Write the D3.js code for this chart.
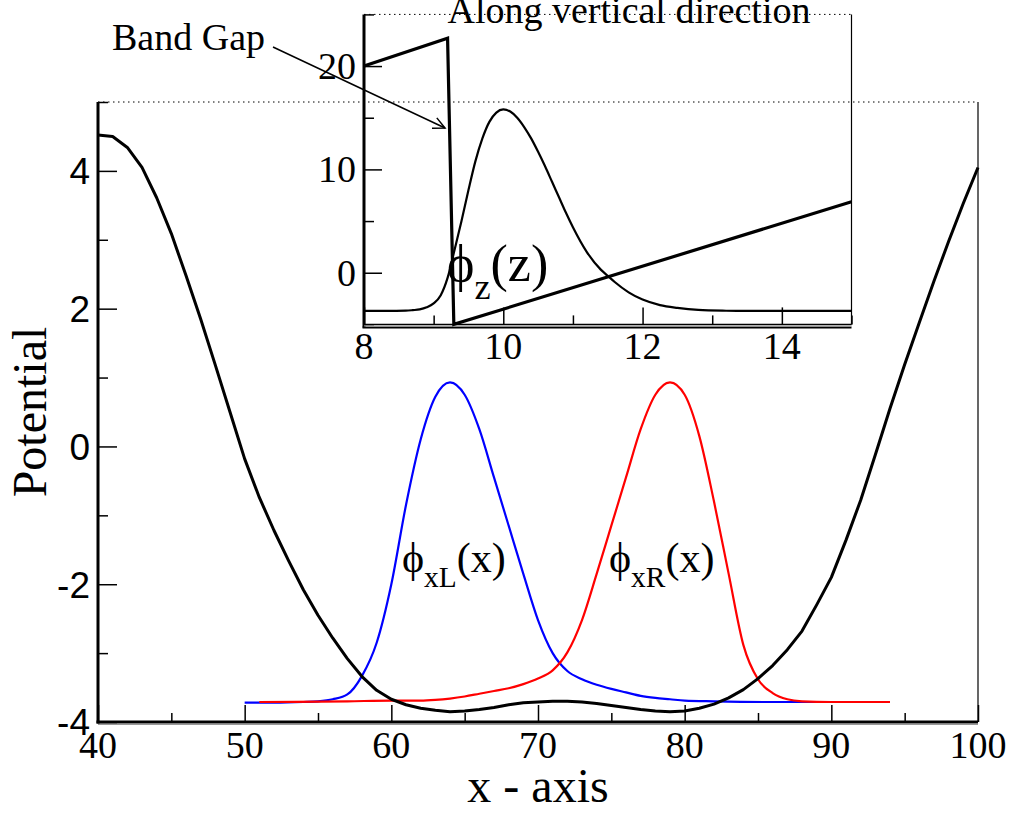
<!DOCTYPE html>
<html>
<head>
<meta charset="utf-8">
<script src="https://cdn.jsdelivr.net/npm/d3@7"></script>
<style>
html,body{margin:0;padding:0;background:#fff;}
svg{display:block;}
</style>
</head>
<body>
<svg id="chart" width="1013" height="813"></svg>
<script>
// ---------- data ----------
const potX = [40,41,42,43,44,45,46,47,48,49,50,51,52,53,54,55,56,57,58,59,60,61,62,63,64,65,66,67,68,69,70,71,72,73,74,75,76,77,78,79,80,81,82,83,84,85,86,87,88,89,90,91,92,93,94,95,96,97,98,99,100];
const potY = [4.52,4.50,4.34,4.05,3.61,3.09,2.48,1.85,1.18,0.50,-0.18,-0.74,-1.22,-1.66,-2.08,-2.45,-2.78,-3.08,-3.34,-3.54,-3.67,-3.75,-3.80,-3.83,-3.85,-3.84,-3.82,-3.79,-3.75,-3.72,-3.71,-3.70,-3.70,-3.71,-3.73,-3.76,-3.79,-3.82,-3.84,-3.85,-3.84,-3.80,-3.74,-3.65,-3.53,-3.37,-3.18,-2.95,-2.68,-2.30,-1.90,-1.36,-0.78,-0.12,0.55,1.19,1.80,2.40,2.98,3.53,4.05];

const phiLX = [50,52,54,55,56,57,58,59,60,61,62,63,64,65,66,67,68,69,70,71,72,73,74,75,76,77,78,79,80,82,86,92];
const phiLY = [-3.72,-3.72,-3.71,-3.70,-3.67,-3.60,-3.33,-2.85,-2.00,-0.85,0.10,0.72,0.93,0.75,0.25,-0.45,-1.15,-1.85,-2.52,-3.00,-3.26,-3.38,-3.46,-3.52,-3.57,-3.62,-3.65,-3.67,-3.69,-3.70,-3.71,-3.71];

const phiRX = [51,57,60,62,63,64,65,66,67,68,69,70,71,72,73,74,75,76,77,78,79,80,81,82,83,84,85,86,87,88,90,94];
const phiRY = [-3.71,-3.70,-3.69,-3.69,-3.68,-3.66,-3.63,-3.59,-3.55,-3.51,-3.45,-3.37,-3.25,-2.99,-2.52,-1.85,-1.15,-0.45,0.25,0.75,0.93,0.75,0.15,-0.80,-1.85,-2.88,-3.38,-3.58,-3.67,-3.70,-3.71,-3.71];

const insetPotX = [8.0,9.2,9.29,15.0];
const insetPotY = [20.0,22.7,-5.0,6.87];

const phiZX = [8.0,8.4,8.6,8.7,8.8,8.9,9.0,9.1,9.2,9.3,9.4,9.5,9.6,9.7,9.8,9.9,10.0,10.1,10.2,10.3,10.4,10.5,10.6,10.7,10.8,10.9,11.0,11.2,11.4,11.5,11.6,11.8,12.0,12.25,12.5,12.8,13.2,13.5,15.0];
const phiZY = [-3.7,-3.69,-3.67,-3.62,-3.55,-3.35,-2.97,-2.2,-0.5,2.2,5.0,8.0,10.8,13.0,14.6,15.5,15.8,15.6,15.0,14.1,13.0,11.7,10.3,8.8,7.3,5.8,4.4,2.0,0.3,-0.3,-0.9,-1.9,-2.6,-3.13,-3.4,-3.6,-3.68,-3.7,-3.7];

const mainXTicks = [40,50,60,70,80,90,100];
const mainXMinor = [45,55,65,75,85,95];
const mainYTicks = [-4,-2,0,2,4];
const mainYMinor = [-3,-1,1,3,5];
const insetXTicks = [8,10,12,14];
const insetXMinor = [9,11,13,15];
const insetYTicks = [0,10,20];
const insetYMinor = [-5,5,15,25];

// ---------- layout ----------
const svg = d3.select("#chart");
const serif = "'Liberation Serif','Times New Roman',serif";
const sans = "'Liberation Sans',Arial,sans-serif";
const PHI = "\u03D5";

const x = d3.scaleLinear().domain([40,100]).range([98,978]);
const y = d3.scaleLinear().domain([-4,5]).range([722,102]);

const ix = d3.scaleLinear().domain([8,15]).range([364,851.5]);
const iy = d3.scaleLinear().domain([-5,25]).range([324.4,14.4]);

// main frame: top dotted, right thin
svg.append("line").attr("x1",x(40)).attr("x2",x(100)).attr("y1",y(5)).attr("y2",y(5))
  .attr("stroke","#000").attr("stroke-width",1).attr("stroke-dasharray","1.5,3.5");
svg.append("line").attr("x1",x(100)).attr("x2",x(100)).attr("y1",y(5)).attr("y2",y(-4))
  .attr("stroke","#000").attr("stroke-width",1.2);

// main axes via d3 axes (ticks inside)
const gx = svg.append("g").attr("transform",`translate(0,${y(-4)})`)
  .call(d3.axisTop(x).tickValues(mainXTicks).tickSize(17).tickFormat(""));
const gxm = svg.append("g").attr("transform",`translate(0,${y(-4)})`)
  .call(d3.axisTop(x).tickValues(mainXMinor).tickSize(9).tickFormat(""));
const gy = svg.append("g").attr("transform",`translate(${x(40)},0)`)
  .call(d3.axisRight(y).tickValues(mainYTicks).tickSize(19).tickFormat(""));
const gym = svg.append("g").attr("transform",`translate(${x(40)},0)`)
  .call(d3.axisRight(y).tickValues(mainYMinor).tickSize(10).tickFormat(""));
[gx,gxm,gy,gym].forEach(g=>{
  g.select(".domain").remove();
  g.selectAll(".tick line").attr("stroke","#000").attr("stroke-width",1.5);
});
svg.append("line").attr("x1",x(40)).attr("x2",x(40)).attr("y1",y(5)).attr("y2",y(-4)+1.5)
  .attr("stroke","#000").attr("stroke-width",3);
svg.append("line").attr("x1",x(40)-1.5).attr("x2",x(100)).attr("y1",y(-4)).attr("y2",y(-4))
  .attr("stroke","#000").attr("stroke-width",3);
svg.append("line").attr("x1",x(40)).attr("x2",x(100)).attr("y1",y(-4)+2.5).attr("y2",y(-4)+2.5)
  .attr("stroke","#999").attr("stroke-width",1);

// main tick labels
svg.append("g").selectAll("text").data(mainXTicks).join("text")
  .attr("x",d=>x(d)).attr("y",y(-4)+36).attr("text-anchor","middle")
  .style("font-family",serif).attr("font-size",38).text(d=>d);
svg.append("g").selectAll("text").data(mainYTicks).join("text")
  .attr("x",x(40)-8).attr("y",d=>y(d)).attr("dy","0.36em").attr("text-anchor","end")
  .style("font-family",sans).attr("font-size",37).text(d=>d);

// axis titles
svg.append("text").attr("x",(x(40)+x(100))/2).attr("y",802).attr("text-anchor","middle")
  .style("font-family",serif).attr("font-size",48).text("x - axis");
svg.append("text").attr("transform",`translate(46,${(y(5)+y(-4))/2}) rotate(-90)`)
  .attr("text-anchor","middle").style("font-family",serif).attr("font-size",48).text("Potential");

// main curves
const lineMain = d3.line().x(d=>x(d[0])).y(d=>y(d[1])).curve(d3.curveMonotoneX);
svg.append("path").datum(phiLX.map((v,i)=>[v,phiLY[i]])).attr("d",lineMain)
  .attr("fill","none").attr("stroke","#0000ff").attr("stroke-width",2.2);
svg.append("path").datum(phiRX.map((v,i)=>[v,phiRY[i]])).attr("d",lineMain)
  .attr("fill","none").attr("stroke","#ff0000").attr("stroke-width",2.2);
svg.append("path").datum(potX.map((v,i)=>[v,potY[i]])).attr("d",d3.line().x(d=>x(d[0])).y(d=>y(d[1])))
  .attr("fill","none").attr("stroke","#000").attr("stroke-width",3).attr("stroke-linejoin","round");

// wavefunction labels
function phiLabel(px,py,size,sub,arg){
  const t = svg.append("text").attr("x",px).attr("y",py).style("font-family",serif).attr("font-size",size);
  t.append("tspan").text(PHI);
  t.append("tspan").attr("dy",size*0.35).attr("font-size",size*0.7).text(sub);
  t.append("tspan").attr("dy",-size*0.35).text("("+arg+")");
}
phiLabel(402,572,42,"xL","x");
phiLabel(609,572,42,"xR","x");

// ---------- inset ----------
svg.append("line").attr("x1",ix(8)).attr("x2",ix(15)).attr("y1",iy(25)).attr("y2",iy(25))
  .attr("stroke","#000").attr("stroke-width",1).attr("stroke-dasharray","1.5,3.5");
svg.append("line").attr("x1",ix(15)).attr("x2",ix(15)).attr("y1",iy(25)).attr("y2",iy(-5))
  .attr("stroke","#000").attr("stroke-width",1.2);

const igx = svg.append("g").attr("transform",`translate(0,${iy(-5)})`)
  .call(d3.axisTop(ix).tickValues(insetXTicks).tickSize(17).tickFormat(""));
const igxm = svg.append("g").attr("transform",`translate(0,${iy(-5)})`)
  .call(d3.axisTop(ix).tickValues(insetXMinor).tickSize(9).tickFormat(""));
const igy = svg.append("g").attr("transform",`translate(${ix(8)},0)`)
  .call(d3.axisRight(iy).tickValues(insetYTicks).tickSize(18).tickFormat(""));
const igym = svg.append("g").attr("transform",`translate(${ix(8)},0)`)
  .call(d3.axisRight(iy).tickValues(insetYMinor).tickSize(10).tickFormat(""));
[igx,igxm,igy,igym].forEach(g=>{
  g.select(".domain").remove();
  g.selectAll(".tick line").attr("stroke","#000").attr("stroke-width",1.5);
});
svg.append("line").attr("x1",ix(8)).attr("x2",ix(8)).attr("y1",iy(25)).attr("y2",iy(-5)+3)
  .attr("stroke","#000").attr("stroke-width",3);
svg.append("line").attr("x1",ix(8)).attr("x2",ix(15)).attr("y1",iy(-5)).attr("y2",iy(-5))
  .attr("stroke","#000").attr("stroke-width",1.5);
svg.append("line").attr("x1",ix(8)-1.5).attr("x2",ix(15)).attr("y1",iy(-5)+3).attr("y2",iy(-5)+3)
  .attr("stroke","#000").attr("stroke-width",2);
svg.append("line").attr("x1",ix(8)).attr("x2",ix(15)).attr("y1",iy(-5)+1.5).attr("y2",iy(-5)+1.5)
  .attr("stroke","#aaa").attr("stroke-width",1);

svg.append("g").selectAll("text").data(insetXTicks).join("text")
  .attr("x",d=>ix(d)).attr("y",iy(-5)+35).attr("text-anchor","middle")
  .style("font-family",serif).attr("font-size",38).text(d=>d);
svg.append("g").selectAll("text").data(insetYTicks).join("text")
  .attr("x",ix(8)-8).attr("y",d=>iy(d)).attr("dy","0.34em").attr("text-anchor","end")
  .style("font-family",serif).attr("font-size",38).text(d=>d);

const lineIn = d3.line().x(d=>ix(d[0])).y(d=>iy(d[1]));
svg.append("path").datum(phiZX.map((v,i)=>[v,phiZY[i]])).attr("d",lineIn.curve(d3.curveMonotoneX))
  .attr("fill","none").attr("stroke","#000").attr("stroke-width",2.2);
svg.append("path").datum(insetPotX.map((v,i)=>[v,insetPotY[i]])).attr("d",d3.line().x(d=>ix(d[0])).y(d=>iy(d[1])))
  .attr("fill","none").attr("stroke","#000").attr("stroke-width",3.2).attr("stroke-linejoin","miter");

// inset title and labels
svg.append("text").attr("x",629).attr("y",23).attr("text-anchor","middle")
  .style("font-family",serif).attr("font-size",38).text("Along vertical direction");
phiLabel(447,281,52,"z","z");

// Band Gap annotation
svg.append("text").attr("x",112).attr("y",50).style("font-family",serif).attr("font-size",38).text("Band Gap");
const ax1=273, ay1=47, ax2=445, ay2=128;
svg.append("line").attr("x1",ax1).attr("y1",ay1).attr("x2",ax2).attr("y2",ay2)
  .attr("stroke","#000").attr("stroke-width",1.5);
{
  const ang = Math.atan2(ay2-ay1, ax2-ax1), L=13, w=0.45;
  const p1=[ax2-L*Math.cos(ang-w), ay2-L*Math.sin(ang-w)];
  const p2=[ax2-L*Math.cos(ang+w), ay2-L*Math.sin(ang+w)];
  svg.append("path").attr("d",`M${p1[0]},${p1[1]}L${ax2},${ay2}L${p2[0]},${p2[1]}`)
    .attr("fill","none").attr("stroke","#000").attr("stroke-width",1.5);
}
</script>
</body>
</html>
